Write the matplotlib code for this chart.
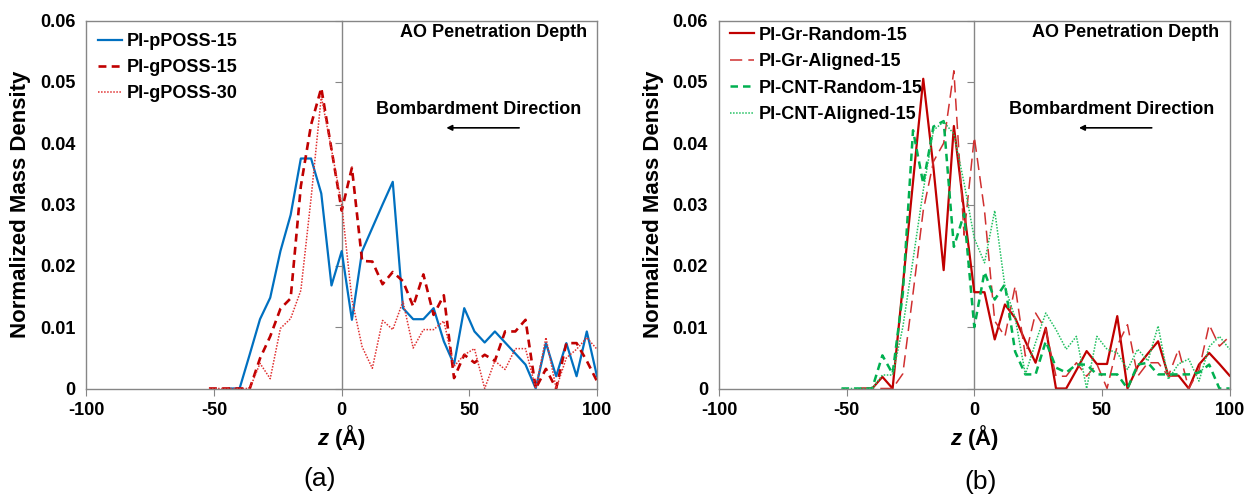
import numpy as np
import matplotlib
matplotlib.use('Agg')
import matplotlib.pyplot as plt

plt.rcParams['font.family'] = ['Liberation Sans', 'DejaVu Sans']
plt.rcParams['font.weight'] = 'bold'
plt.rcParams['mathtext.fontset'] = 'custom'
plt.rcParams['mathtext.it'] = 'Liberation Sans:bold:italic'
plt.rcParams['mathtext.rm'] = 'Liberation Sans:bold'

# bin centres (A), same grid for both panels
z = np.arange(-52, 101, 4)
nan = np.nan

# (a) POSS systems
pposs15 = [nan, nan, 0, 0, 0.0056, 0.0113, 0.0148, 0.0224, 0.0283, 0.0375, 0.0375, 0.0318, 0.0168,
           0.0224, 0.0112, 0.0224, 0.0262, 0.0300, 0.0337, 0.0131, 0.0113, 0.0113, 0.0131, 0.0077,
           0.0039, 0.0131, 0.0093, 0.0075, 0.0093, 0.0075, 0.0057, 0.0039, 0, 0.0074, 0.0020,
           0.0074, 0.0020, 0.0093, 0.0020]
gposs15 = [0, 0, 0, 0, 0, 0.0049, 0.0085, 0.0130, 0.0147, 0.0330, 0.0430, 0.0490, 0.0390,
           0.0290, 0.0360, 0.0208, 0.0207, 0.0170, 0.0190, 0.0175, 0.0134, 0.0186, 0.0120, 0.0152,
           0.0017, 0.0055, 0.0042, 0.0055, 0.0045, 0.0093, 0.0093, 0.0112, 0, 0.0032, 0,
           0.0074, 0.0074, 0.0045, 0.0012]
gposs30 = [0, 0, 0, 0, 0, 0.0041, 0.0016, 0.0098, 0.0114, 0.0160, 0.0310, 0.0476, 0.0390,
           0.0300, 0.0145, 0.0068, 0.0033, 0.0111, 0.0096, 0.0142, 0.0066, 0.0096, 0.0096, 0.0110,
           0.0036, 0.0055, 0.0065, 0, 0.0045, 0.0031, 0.0065, 0.0065, 0, 0.0083, 0,
           0.0050, 0.0064, 0.0083, 0.0064]

# (b) graphene / CNT systems
gr_random = [nan, nan, 0, 0, 0.0019, 0, 0.0168, 0.0337, 0.0505, 0.0360, 0.0193, 0.0428, 0.0290,
             0.0157, 0.0157, 0.0080, 0.0137, 0.0115, 0.0077, 0.0042, 0.0099, 0, 0, 0.0030,
             0.0061, 0.0040, 0.0040, 0.0118, 0, 0.0036, 0.0057, 0.0077, 0.0021, 0.0021, 0,
             0.0039, 0.0058, 0.0040, 0.0021]
gr_aligned = [nan, nan, 0, 0, 0, 0, 0.0024, 0.0155, 0.0290, 0.0370, 0.0400, 0.0518, 0.0250,
              0.0410, 0.0290, 0.0110, 0.0085, 0.0167, 0.0053, 0.0123, 0.0096, 0.0020, 0.0020, 0.0042,
              0.0020, 0.0040, 0, 0.0070, 0.0104, 0.0020, 0.0042, 0.0042, 0.0020, 0.0064, 0,
              0.0030, 0.0104, 0.0069, 0.0085]
cnt_random = [0, 0, 0, 0, 0.0054, 0.0024, 0.0155, 0.0421, 0.0334, 0.0427, 0.0436, 0.0231, 0.0285,
              0.0100, 0.0190, 0.0145, 0.0170, 0.0060, 0.0023, 0.0023, 0.0077, 0.0034, 0.0026, 0.0039,
              0.0039, 0.0023, 0.0023, 0.0023, 0, 0.0039, 0.0042, 0.0023, 0.0023, 0.0023, 0.0023,
              0.0026, 0.0039, 0, 0]
cnt_aligned = [0, 0, 0, 0, 0.0022, 0.0022, 0.0100, 0.0210, 0.0323, 0.0421, 0.0435, 0.0415, 0.0335,
               0.0245, 0.0205, 0.0290, 0.0166, 0.0115, 0.0023, 0.0075, 0.0123, 0.0096, 0.0064, 0.0085,
               0, 0.0085, 0.0064, 0.0058, 0.0031, 0.0064, 0.0045, 0.0102, 0.0015, 0.0040, 0.0048,
               0.0012, 0.0068, 0.0085, 0.0064]

gray = '#868686'
blue = '#0070C0'
red = '#C00000'
green = '#00B050'

fig = plt.figure(figsize=(12.47, 4.99), dpi=100)
axa = fig.add_axes([86.4 / 1247, 1 - 388.5 / 499, 510.6 / 1247, 368 / 499])
axb = fig.add_axes([719 / 1247, 1 - 388.5 / 499, 510.6 / 1247, 368 / 499])

axa.plot(z, pposs15, color=blue, lw=1.6, label='PI-pPOSS-15')
axa.plot(z, gposs15, color=red, lw=1.9, dashes=(3, 2), label='PI-gPOSS-15')
axa.plot(z, gposs30, color='#E03030', lw=1.1, dashes=(1, 1), label='PI-gPOSS-30')

axb.plot(z, gr_random, color=red, lw=1.6, label='PI-Gr-Random-15')
axb.plot(z, gr_aligned, color='#D03030', lw=1.1, dashes=(8, 4), label='PI-Gr-Aligned-15')
axb.plot(z, cnt_random, color=green, lw=1.8, dashes=(3, 2), label='PI-CNT-Random-15')
axb.plot(z, cnt_aligned, color='#20C060', lw=1.1, dashes=(1, 1), label='PI-CNT-Aligned-15')

for ax, lab, lx, ly in [(axa, '(a)', 320, 0.04), (axb, '(b)', 981, 0.035)]:
    ax.set_xlim(-100, 100)
    ax.set_ylim(0, 0.06)
    ax.set_xticks([-100, -50, 0, 50, 100])
    ax.set_xticklabels(['-100', '-50', '0', '50', '100'])
    ax.set_yticks(np.arange(0, 0.061, 0.01))
    ax.set_yticklabels(['0', '0.01', '0.02', '0.03', '0.04', '0.05', '0.06'])
    ax.tick_params(axis='x', length=5, direction='out', color=gray, labelsize=13, pad=5)
    ax.tick_params(axis='y', length=0, labelsize=13, pad=8)
    for s in ax.spines.values():
        s.set_color(gray)
        s.set_linewidth(1.0)

    # vertical axis crossing at z = 0
    sec = ax.secondary_yaxis(0.5)
    sec.set_alignment('left')
    sec.set_yticks(np.arange(0, 0.061, 0.01))
    sec.tick_params(axis='y', length=5, direction='out', color=gray, labelleft=False, labelright=False)
    sec.spines['left'].set_color(gray)
    sec.spines['left'].set_linewidth(1.0)

    ax.set_ylabel('Normalized Mass Density', fontsize=16, fontweight='bold')
    ax.yaxis.set_label_coords(-0.108, 0.5)
    ax.set_xlabel(r'$\it{z}$ (Å)', fontsize=16, fontweight='bold')
    ax.xaxis.set_label_coords(0.5, -0.095)

    ax.text(96, 0.058, 'AO Penetration Depth', ha='right', va='center', fontsize=13, fontweight='bold')
    ax.text(94, 0.0455, 'Bombardment Direction', ha='right', va='center', fontsize=13, fontweight='bold')
    ax.annotate('', xy=(41, 0.0425), xytext=(69.5, 0.0425),
                arrowprops=dict(arrowstyle='-|>', color='black', lw=1.2, mutation_scale=8,
                                shrinkA=0, shrinkB=0))

    fig.text(lx / 1247, ly, lab, fontsize=19, fontweight='normal', ha='center', va='center')

axa.legend(loc='upper left', bbox_to_anchor=(0.022, 0.966), frameon=False, fontsize=13,
           handlelength=1.35, handletextpad=0.25, labelspacing=0.5, borderpad=0, borderaxespad=0)
axb.legend(loc='upper left', bbox_to_anchor=(0.021, 0.983), frameon=False, fontsize=13,
           handlelength=1.35, handletextpad=0.25, labelspacing=0.52, borderpad=0, borderaxespad=0)

fig.savefig('out.png', dpi=100)
